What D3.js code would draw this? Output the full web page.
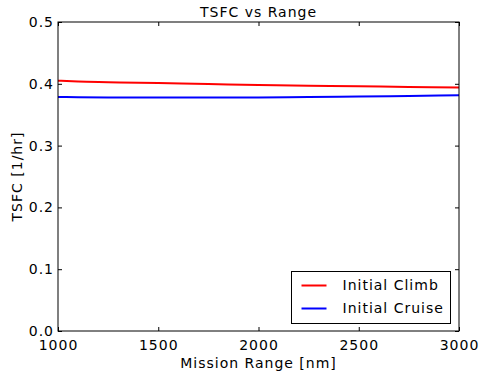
<!DOCTYPE html>
<html>
<head>
<meta charset="utf-8">
<script src="https://cdn.jsdelivr.net/npm/d3@7"></script>
<style>
  body { margin: 0; background: #fff; }
  svg { display: block; font-family: "DejaVu Sans", sans-serif; }
  text { letter-spacing: 1px; }
</style>
</head>
<body>
<svg id="chart" width="481" height="379"></svg>
<script>
// data
let rangeNm = [1000, 1100, 1250, 1500, 1750, 2000, 2250, 2500, 2750, 3000];
let climbTsfc = [0.405, 0.4036, 0.4026, 0.4011, 0.3996, 0.3982, 0.3970, 0.3959, 0.3949, 0.3940];
let cruiseTsfc = [0.3788, 0.3783, 0.3779, 0.3777, 0.3777, 0.3780, 0.3786, 0.3794, 0.3804, 0.3816];
let xTicks = [1000, 1500, 2000, 2500, 3000];
let yTicks = [0.0, 0.1, 0.2, 0.3, 0.4, 0.5];
let seriesNames = ['Initial Climb', 'Initial Cruise'];
let seriesColors = ['#ff0000', '#0000ff'];

let margin = { top: 22, right: 22, bottom: 48, left: 58 };
let width = 481 - margin.left - margin.right;
let height = 379 - margin.top - margin.bottom;

let svg = d3.select('#chart');
let g = svg.append('g')
    .attr('transform', `translate(${margin.left},${margin.top})`);

let x = d3.scaleLinear().domain([1000, 3000]).range([0, width]);
let y = d3.scaleLinear().domain([0, 0.5]).range([height, 0]);

// ticks inside, on all four sides
let tickLen = 4;
g.append('g')
    .attr('transform', `translate(0,${height})`)
    .call(d3.axisBottom(x).tickValues(xTicks).tickFormat(d3.format('d')).tickSizeInner(-tickLen).tickSizeOuter(0).tickPadding(9))
    .call(a => a.select('.domain').remove());
g.append('g')
    .call(d3.axisTop(x).tickValues(xTicks).tickSizeInner(-tickLen).tickSizeOuter(0).tickFormat(''))
    .call(a => a.select('.domain').remove());
g.append('g')
    .call(d3.axisLeft(y).tickValues(yTicks).tickFormat(d3.format('.1f')).tickSizeInner(-tickLen).tickSizeOuter(0).tickPadding(4))
    .call(a => a.select('.domain').remove());
g.append('g')
    .attr('transform', `translate(${width},0)`)
    .call(d3.axisRight(y).tickValues(yTicks).tickSizeInner(-tickLen).tickSizeOuter(0).tickFormat(''))
    .call(a => a.select('.domain').remove());

g.selectAll('.tick text')
    .attr('font-size', 14)
    .attr('font-family', '"DejaVu Sans", sans-serif')
    .attr('fill', '#000');
g.selectAll('.tick line').attr('stroke', '#000');

// lines
let line = d3.line()
    .x((d, i) => x(rangeNm[i]))
    .y(d => y(d))
    .curve(d3.curveMonotoneX);

[climbTsfc, cruiseTsfc].forEach((vals, i) => {
    g.append('path')
        .datum(vals)
        .attr('fill', 'none')
        .attr('stroke', seriesColors[i])
        .attr('stroke-width', 2)
        .attr('d', line);
});

// frame
g.append('rect')
    .attr('width', width)
    .attr('height', height)
    .attr('fill', 'none')
    .attr('stroke', '#000')
    .attr('stroke-width', 1);

// legend
let legend = g.append('g')
    .attr('transform', 'translate(233.5,249.5)');
legend.append('rect')
    .attr('width', 159)
    .attr('height', 52)
    .attr('fill', '#fff')
    .attr('stroke', '#000')
    .attr('stroke-width', 1);
seriesNames.forEach((name, i) => {
    let ly = 14 + i * 23;
    legend.append('line')
        .attr('x1', 10).attr('x2', 35)
        .attr('y1', ly).attr('y2', ly)
        .attr('stroke', seriesColors[i])
        .attr('stroke-width', 2);
    legend.append('text')
        .attr('x', 51)
        .attr('y', ly)
        .attr('dy', '0.35em')
        .attr('font-size', 14)
        .text(name);
});

// title and axis labels
svg.append('text')
    .attr('x', margin.left + width / 2)
    .attr('y', 17)
    .attr('text-anchor', 'middle')
    .attr('font-size', 14)
    .text('TSFC vs Range');
svg.append('text')
    .attr('x', margin.left + width / 2)
    .attr('y', 368)
    .attr('text-anchor', 'middle')
    .attr('font-size', 14)
    .text('Mission Range [nm]');
svg.append('text')
    .attr('transform', `translate(22,${margin.top + height / 2}) rotate(-90)`)
    .attr('text-anchor', 'middle')
    .attr('font-size', 14)
    .text('TSFC [1/hr]');
</script>
</body>
</html>
